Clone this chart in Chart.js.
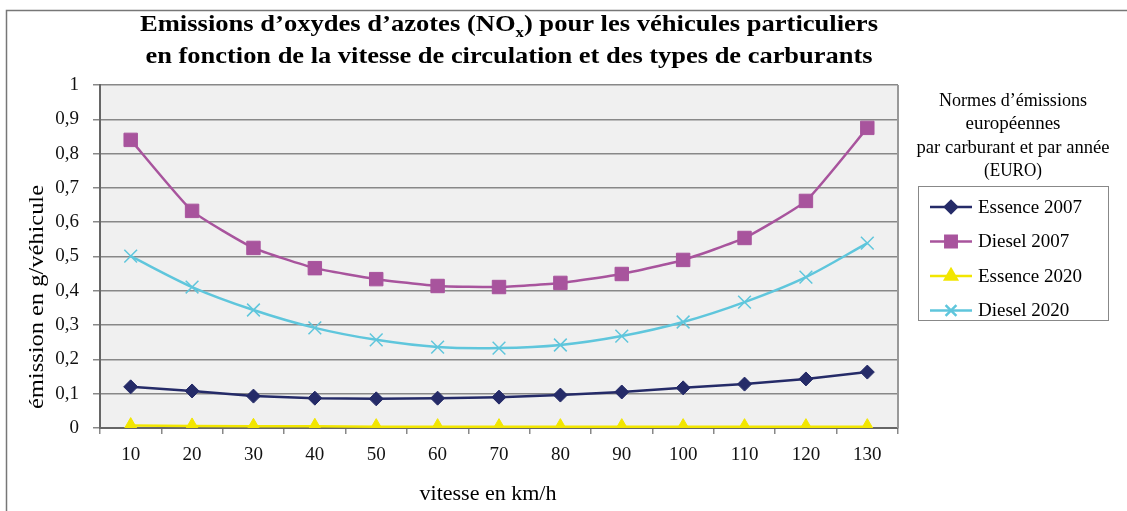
<!DOCTYPE html>
<html>
<head>
<meta charset="utf-8">
<script src="https://cdn.jsdelivr.net/npm/chart.js@4"></script>
<style>
  html, body { margin: 0; padding: 0; background: #fff; }
  #wrap { width: 1127px; height: 511px; position: relative; }
</style>
</head>
<body>
<div id="wrap"><canvas id="chart" width="1127" height="511"></canvas></div>
<script>
const vitesses = ['10', '20', '30', '40', '50', '60', '70', '80', '90', '100', '110', '120', '130'];
const essence2007 = [0.120, 0.108, 0.093, 0.087, 0.085, 0.087, 0.090, 0.096, 0.105, 0.117, 0.128, 0.143, 0.163];
const diesel2007 = [0.840, 0.633, 0.525, 0.466, 0.434, 0.414, 0.411, 0.423, 0.449, 0.490, 0.554, 0.662, 0.875];
const essence2020 = [0.007, 0.006, 0.005, 0.005, 0.004, 0.004, 0.004, 0.004, 0.004, 0.004, 0.004, 0.004, 0.004];
const diesel2020 = [0.501, 0.411, 0.344, 0.292, 0.257, 0.236, 0.233, 0.242, 0.268, 0.309, 0.367, 0.440, 0.539];
const seriesNames = ['Essence 2007', 'Diesel 2007', 'Essence 2020', 'Diesel 2020'];
const legendTitle = ['Normes d\u2019émissions', 'européennes', 'par carburant et par année', '(EURO)'];

const SERIF = '"Liberation Serif", "Times New Roman", serif';

// texte centré, étiré horizontalement à une largeur donnée
function fitText(ctx, text, cx, cy, width) {
  const w = ctx.measureText(text).width;
  ctx.save();
  ctx.translate(cx, cy);
  ctx.scale(width / w, 1);
  ctx.textAlign = 'center';
  ctx.fillText(text, 0, 0);
  ctx.restore();
}

// fond gris de la zone de tracé, cadre extérieur, titres et légende
const decor = {
  id: 'decor',
  beforeDraw(chart) {
    const { ctx, chartArea: a } = chart;
    ctx.save();
    ctx.fillStyle = '#f0f0f0';
    ctx.fillRect(a.left, a.top, a.right - a.left, a.bottom - a.top);
    ctx.strokeStyle = '#777';
    ctx.lineWidth = 1.5;
    ctx.strokeRect(6.5, 10.5, 1200, 600);
    ctx.restore();
  },
  afterDraw(chart) {
    const { ctx, chartArea: a } = chart;
    ctx.save();
    // bord droit du tracé
    ctx.strokeStyle = '#999';
    ctx.lineWidth = 2;
    ctx.beginPath();
    ctx.moveTo(a.right, a.top);
    ctx.lineTo(a.right, a.bottom);
    ctx.stroke();

    // titre avec indice
    ctx.fillStyle = '#000';
    ctx.textBaseline = 'middle';
    const p1 = 'Emissions d\u2019oxydes d\u2019azotes (NO';
    const p2 = ') pour les véhicules particuliers';
    ctx.font = 'bold 24px ' + SERIF;
    const w1 = ctx.measureText(p1).width;
    const w3 = ctx.measureText(p2).width;
    ctx.font = 'bold 15px ' + SERIF;
    const w2 = ctx.measureText('x').width;
    const tot = w1 + w2 + w3;
    ctx.save();
    ctx.translate(509, 25);
    ctx.scale(738 / tot, 1);
    ctx.textAlign = 'left';
    ctx.font = 'bold 24px ' + SERIF;
    ctx.fillText(p1, -tot / 2, 0);
    ctx.font = 'bold 15px ' + SERIF;
    ctx.fillText('x', -tot / 2 + w1, 8);
    ctx.font = 'bold 24px ' + SERIF;
    ctx.fillText(p2, -tot / 2 + w1 + w2, 0);
    ctx.restore();
    ctx.font = 'bold 24px ' + SERIF;
    fitText(ctx, 'en fonction de la vitesse de circulation et des types de carburants', 509, 57, 727);

    // titres des axes
    ctx.font = '20px ' + SERIF;
    fitText(ctx, 'vitesse en km/h', 488, 495, 137);
    ctx.save();
    ctx.translate(38, 297);
    ctx.rotate(-Math.PI / 2);
    fitText(ctx, 'émission en g/véhicule', 0, 0, 224);
    ctx.restore();

    // légende
    ctx.font = '18px ' + SERIF;
    const legendW = [148, 95, 193, 58];
    legendTitle.forEach((t, i) => fitText(ctx, t, 1013, 101 + i * 23.5, legendW[i]));
    ctx.strokeStyle = '#888';
    ctx.lineWidth = 1;
    ctx.strokeRect(918.5, 186.5, 190, 134);
    ctx.font = '19px ' + SERIF;
    ctx.textAlign = 'left';
    chart.data.datasets.forEach((ds, i) => {
      const y = 207 + i * 34.5;
      ctx.strokeStyle = ds.borderColor;
      ctx.lineWidth = 2.5;
      ctx.beginPath();
      ctx.moveTo(930, y);
      ctx.lineTo(972, y);
      ctx.stroke();
      ctx.fillStyle = ds.pointBackgroundColor;
      ctx.strokeStyle = ds.pointBorderColor;
      Chart.helpers.drawPoint(ctx, {
        pointStyle: ds.pointStyle,
        radius: ds.pointRadius * 0.85,
        borderWidth: ds.pointBorderWidth
      }, 951, y);
      ctx.fillStyle = '#000';
      ctx.fillText(ds.label, 978, y + 1);
    });
    ctx.restore();
  }
};

function serie(label, data, color, style, radius, tension) {
  return {
    label, data,
    borderColor: color,
    backgroundColor: color,
    pointBackgroundColor: color,
    pointBorderColor: color,
    pointStyle: style,
    pointRadius: radius,
    pointHoverRadius: radius,
    pointBorderWidth: style === 'crossRot' ? 1.5 : 1,
    borderWidth: 2.5,
    tension,
    fill: false
  };
}

new Chart(document.getElementById('chart'), {
  type: 'line',
  data: {
    labels: vitesses,
    datasets: [
      serie(seriesNames[0], essence2007, '#252b68', 'rectRot', 7, 0),
      serie(seriesNames[1], diesel2007, '#a8549d', 'rect', 9.5, 0.15),
      serie(seriesNames[2], essence2020, '#f2e600', 'triangle', 8, 0),
      serie(seriesNames[3], diesel2020, '#5fc6dc', 'crossRot', 9, 0.3)
    ]
  },
  options: {
    responsive: false,
    animation: false,
    events: [],
    layout: { padding: { left: 0, right: 229, top: 85, bottom: 0 } },
    plugins: { legend: { display: false }, title: { display: false }, tooltip: { enabled: false } },
    scales: {
      x: {
        offset: true,
        grid: { offset: true, drawOnChartArea: false, drawTicks: true, tickLength: 6, color: '#888', lineWidth: 1.5 },
        border: { color: '#666', width: 2 },
        ticks: { color: '#111', font: { family: SERIF, size: 19 }, padding: 10, maxRotation: 0 },
        afterFit(s) { s.height = 83; }
      },
      y: {
        min: 0, max: 1,
        grid: { color: '#888', lineWidth: 1.5, tickLength: 7, drawTicks: true },
        border: { color: '#666', width: 2 },
        ticks: {
          stepSize: 0.1,
          color: '#111',
          font: { family: SERIF, size: 19 },
          padding: 14,
          callback: v => String(Math.round(v * 10) / 10).replace('.', ',')
        },
        afterFit(s) { s.width = 100; }
      }
    }
  },
  plugins: [decor]
});
</script>
</body>
</html>
